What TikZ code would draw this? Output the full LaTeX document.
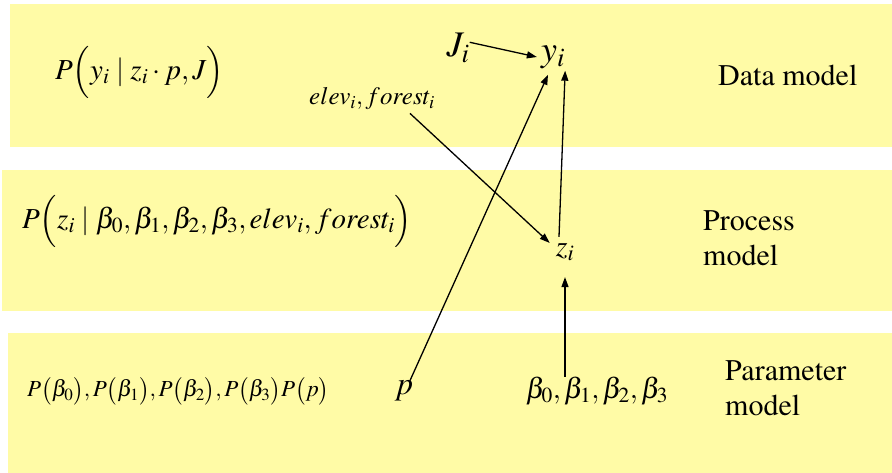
\documentclass[tikz,border=0pt]{standalone}
\usepackage[T1]{fontenc}
\usepackage{mathptmx}
\usetikzlibrary{arrows.meta}
\definecolor{BandYellow}{HTML}{FFFBA6}

\begin{document}
\begin{tikzpicture}[
  x=1pt, y=-1pt,
  band/.style={fill=BandYellow, draw=none},
  term/.style={inner sep=0pt, font=\fontsize{#1}{#1}\selectfont},
  term/.default=30,
  lbl/.style={anchor=west, align=left, inner sep=0pt, font=\fontsize{30}{35}\selectfont},
  arrow/.style={-{Triangle[length=10pt,width=7pt]}, line width=1.3pt}
]
\useasboundingbox (0,0) rectangle (892,473);
% layers
\fill[band] (10,4) rectangle (892,147);
\fill[band] (2,170) rectangle (892,311);
\fill[band] (8,333) rectangle (892,473);
% variables
\node[term=36] (Ji) at (458,48) {$J_i$};
\node[term=36] (yi) at (553,57) {$y_i$};
\node[term=25] (elev) at (372,99) {$elev_i,forest_i$};
\node[term=30] (zi) at (565,252) {$z_i$};
\node[term=32] (p) at (404,391) {$p$};
\node[term=29] (beta) at (597,391) {$\beta_0,\beta_1,\beta_2,\beta_3$};
% distributions
\node[term=29, anchor=west] (datapr) at (55,72) {$P\Bigl(y_i\mathrel{|}z_i\cdot p,J\Bigr)$};
\node[term=29, anchor=west] (procpr) at (22,221) {$P\Bigl(z_i\mathrel{|}\beta_0,\beta_1,\beta_2,\beta_3,elev_i,forest_i\Bigr)$};
\node[term=23, anchor=west] (parpr) at (27,391) {$P\bigl(\beta_0\bigr),P\bigl(\beta_1\bigr),P\bigl(\beta_2\bigr),P\bigl(\beta_3\bigr)P\bigl(p\bigr)$};
% model labels
\node[lbl] (datalbl) at (718,75) {Data model};
\node[lbl] (proclbl) at (703,238) {Process\\model};
\node[lbl] (parlbl) at (725,388) {Parameter\\model};
% arrows
\draw[arrow] ([yshift=-9pt]Ji.north east) -- ([xshift=-4pt]yi.west);
\draw[arrow] ([shift={(38pt,-3pt)}]elev.south) -- ([xshift=-6pt]zi.north west);
\draw[arrow] ([xshift=6pt]p.north) -- ([xshift=-5pt,yshift=-6pt]yi.south);
\draw[arrow] ([xshift=-6pt,yshift=6pt]zi.north) -- ([yshift=-2pt]yi.south east);
\draw[arrow] (beta.north -| zi.south) -- ([yshift=-16pt]zi.south);
\end{tikzpicture}
\end{document}
